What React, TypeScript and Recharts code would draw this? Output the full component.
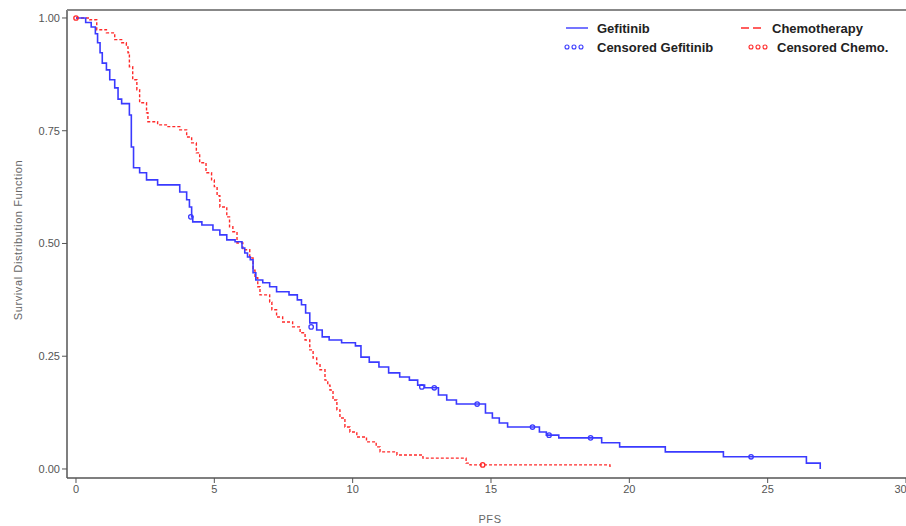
import * as React from 'react';
import { ComposedChart, Line, Scatter, XAxis, YAxis } from 'recharts';

// Kaplan-Meier step points: [time, survival after the step]
const gefitinibSteps: Array<[number, number]> = [
  [0, 1.0], [0.35, 0.99], [0.55, 0.98], [0.7, 0.965], [0.78, 0.945], [0.87, 0.923], [0.95, 0.9],
  [1.1, 0.885], [1.22, 0.863], [1.4, 0.845], [1.52, 0.82], [1.65, 0.81], [1.93, 0.785], [2.0, 0.714],
  [2.08, 0.668], [2.3, 0.657], [2.55, 0.641], [2.95, 0.63], [3.75, 0.614], [4.0, 0.597], [4.1, 0.581],
  [4.18, 0.559], [4.22, 0.548], [4.55, 0.541], [4.95, 0.53], [5.2, 0.519], [5.45, 0.508], [5.75, 0.504],
  [6.0, 0.49], [6.1, 0.479], [6.2, 0.47], [6.3, 0.464], [6.4, 0.435], [6.5, 0.419], [6.75, 0.413],
  [7.0, 0.404], [7.25, 0.393], [7.7, 0.386], [8.0, 0.375], [8.15, 0.364], [8.3, 0.346], [8.45, 0.324],
  [8.7, 0.308], [8.9, 0.293], [9.15, 0.286], [9.6, 0.28], [10.1, 0.273], [10.3, 0.248], [10.6, 0.237],
  [10.95, 0.226], [11.3, 0.213], [11.7, 0.204], [12.05, 0.197], [12.35, 0.186], [12.6, 0.18],
  [13.1, 0.164], [13.4, 0.153], [13.75, 0.144], [14.8, 0.124], [15.05, 0.113], [15.3, 0.102],
  [15.6, 0.093], [16.75, 0.082], [17.0, 0.075], [17.45, 0.069], [19.0, 0.058], [19.65, 0.049],
  [21.3, 0.038], [23.4, 0.027], [26.4, 0.013], [26.9, 0.0],
];

const chemoSteps: Array<[number, number]> = [
  [0, 1.0], [0.5, 0.996], [0.75, 0.974], [1.1, 0.967], [1.4, 0.952], [1.65, 0.945], [1.82, 0.936],
  [1.88, 0.923], [1.93, 0.892], [2.05, 0.863], [2.2, 0.841], [2.3, 0.812], [2.55, 0.79], [2.6, 0.77],
  [2.95, 0.763], [3.3, 0.759], [3.75, 0.752], [4.0, 0.736], [4.18, 0.723], [4.35, 0.701], [4.47, 0.679],
  [4.7, 0.657], [4.9, 0.641], [5.0, 0.626], [5.1, 0.606], [5.2, 0.581], [5.45, 0.559], [5.55, 0.537],
  [5.67, 0.526], [5.82, 0.501], [6.03, 0.486], [6.28, 0.468], [6.4, 0.441], [6.47, 0.424], [6.57, 0.404],
  [6.65, 0.386], [7.0, 0.37], [7.08, 0.353], [7.25, 0.337], [7.47, 0.326], [7.83, 0.315], [8.1, 0.302],
  [8.28, 0.286], [8.45, 0.264], [8.57, 0.246], [8.7, 0.233], [8.82, 0.22], [9.0, 0.197], [9.1, 0.186],
  [9.18, 0.175], [9.29, 0.153], [9.43, 0.131], [9.54, 0.113], [9.72, 0.093], [9.9, 0.082], [10.15, 0.071],
  [10.5, 0.06], [10.85, 0.049], [10.99, 0.038], [11.6, 0.031], [12.54, 0.024], [14.1, 0.013],
  [14.24, 0.009], [19.3, 0.002],
];

const gefitinibCensored: Array<[number, number]> = [
  [4.15, 0.559], [8.5, 0.315], [12.5, 0.182], [12.95, 0.18], [14.5, 0.144], [16.5, 0.093],
  [17.1, 0.075], [18.6, 0.069], [24.4, 0.027],
];

const chemoCensored: Array<[number, number]> = [
  [0, 1.0], [14.7, 0.009],
];

const xTicks = [0, 5, 10, 15, 20, 25, 30];
const yTicks = [0, 0.25, 0.5, 0.75, 1];

const BLUE = '#3a3aff';
const RED = '#ff2a2a';
const FONT = 'Arial, "Liberation Sans", sans-serif';

const toRows = (pts: Array<[number, number]>) => pts.map(([t, s]) => ({ t, s }));

const circleShape = (color: string) => (props: any) => (
  <circle cx={props.cx} cy={props.cy} r={2.2} fill="none" stroke={color} strokeWidth={1.3} />
);

export default function App() {
  const tickStyle = { fill: '#555', fontSize: 11, fontFamily: FONT };
  return (
    <div style={{ position: 'absolute', left: 0, top: 0, width: 906, height: 526, background: '#fff', overflow: 'hidden' }}>
      <ComposedChart width={906} height={526} margin={{ top: 10, right: 0, bottom: 0, left: 0 }}>
        <XAxis
          type="number"
          dataKey="t"
          domain={[-0.325, 30]}
          ticks={xTicks}
          allowDataOverflow
          height={48}
          tickSize={5}
          tick={tickStyle}
          stroke="#555"
          axisLine={{ stroke: '#555', strokeWidth: 1.5 }}
        />
        <YAxis
          type="number"
          dataKey="s"
          domain={[-0.02, 1.0177]}
          ticks={yTicks}
          allowDataOverflow
          width={67}
          tickSize={5}
          tick={tickStyle}
          tickFormatter={(v: number) => v.toFixed(2)}
          stroke="#555"
          axisLine={{ stroke: '#555', strokeWidth: 1.5 }}
        />
        <Line
          data={toRows(chemoSteps)}
          dataKey="s"
          type="stepAfter"
          stroke={RED}
          strokeWidth={1.4}
          strokeDasharray="3 2"
          dot={false}
          activeDot={false}
          isAnimationActive={false}
        />
        <Line
          data={toRows(gefitinibSteps)}
          dataKey="s"
          type="stepAfter"
          stroke={BLUE}
          strokeWidth={1.6}
          dot={false}
          activeDot={false}
          isAnimationActive={false}
        />
        <Scatter data={toRows(gefitinibCensored)} dataKey="s" shape={circleShape(BLUE)} isAnimationActive={false} />
        <Scatter data={toRows(chemoCensored)} dataKey="s" shape={circleShape(RED)} isAnimationActive={false} />
      </ComposedChart>

      {/* top frame line */}
      <div style={{ position: 'absolute', left: 67, top: 9, width: 839, height: 1.5, background: '#888' }} />

      {/* axis titles */}
      <div
        style={{
          position: 'absolute', left: 18, top: 240, transform: 'translate(-50%, -50%) rotate(-90deg)',
          whiteSpace: 'nowrap', fontFamily: FONT, fontSize: 11, letterSpacing: 0.6, color: '#666',
        }}
      >
        Survival Distribution Function
      </div>
      <div
        style={{
          position: 'absolute', left: 490, top: 519, transform: 'translate(-50%, -50%)',
          fontFamily: FONT, fontSize: 11, letterSpacing: 0.6, color: '#666',
        }}
      >
        PFS
      </div>

      {/* legend */}
      <svg width={906} height={70} style={{ position: 'absolute', left: 0, top: 0 }}>
        <g fontFamily={FONT} fontSize={13} fontWeight="bold" fill="#222">
          <line x1={566} y1={28} x2={588} y2={28} stroke={BLUE} strokeWidth={1.4} />
          <text x={597} y={33}>Gefitinib</text>
          <line x1={741} y1={28} x2={763} y2={28} stroke={RED} strokeWidth={1.4} strokeDasharray="8 4" />
          <text x={772} y={33}>Chemotherapy</text>
          {[567, 574, 581].map((x) => (
            <circle key={x} cx={x} cy={47} r={2} fill="none" stroke={BLUE} strokeWidth={1.1} />
          ))}
          <text x={597} y={52}>Censored Gefitinib</text>
          {[751, 758, 765].map((x) => (
            <circle key={x} cx={x} cy={47} r={2} fill="none" stroke={RED} strokeWidth={1.1} />
          ))}
          <text x={777} y={52}>Censored Chemo.</text>
        </g>
      </svg>
    </div>
  );
}
